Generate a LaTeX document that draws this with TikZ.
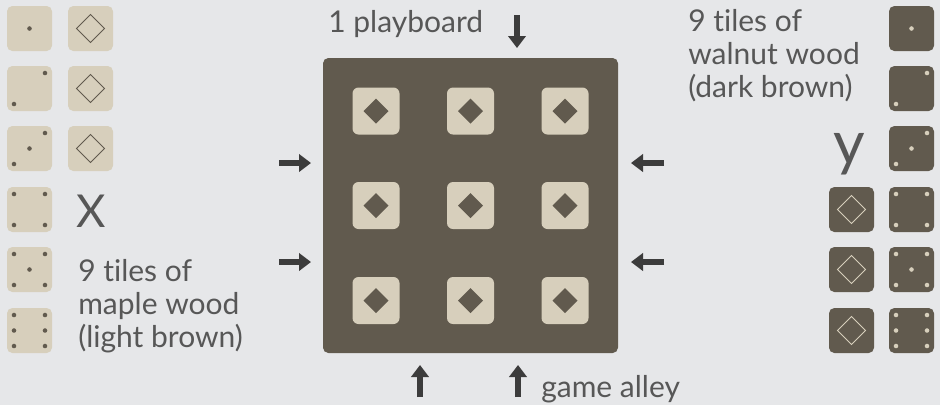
\documentclass[tikz,border=0pt]{standalone}
\usepackage{fontspec}
\setmainfont{Lato}[Ligatures=NoCommon]
\usetikzlibrary{arrows.meta,calc}
\definecolor{bgc}{HTML}{E6E7E9}
\definecolor{lightw}{HTML}{D7CFBC}
\definecolor{darkw}{HTML}{615A4E}
\definecolor{txtc}{HTML}{575757}
\definecolor{arrc}{HTML}{3C3C3C}
\tikzset{
  smalltile/.style={rectangle, minimum size=33.75pt, inner sep=0pt, rounded corners=4pt},
  ltile/.style={smalltile, fill=lightw},
  dtile/.style={smalltile, fill=darkw},
  boardtile/.style={rectangle, minimum size=35.25pt, inner sep=0pt, rounded corners=4.5pt, fill=lightw},
  boardbox/.style={rectangle, minimum size=221.25pt, inner sep=0pt, rounded corners=4pt, fill=darkw},
  lbl/.style={inner sep=0pt, text=txtc, font=\fontsize{22.5}{24.75}\selectfont, align=left},
  bigarrow/.style={draw=arrc, line width=4pt, -{Triangle[width=13pt,length=9pt]}},
}
\newcommand{\pipsat}[3]{% node, colour, list of offsets
  \foreach \dx/\dy in {#3}{\fill[#2] ($(#1)+(\dx,\dy)$) circle[radius=1.7pt];}}
\newcommand{\outdiamond}[2]{%
  \draw[#2, line width=0.6pt] ($(#1)+(0,-14)$) -- ($(#1)+(14,0)$) -- ($(#1)+(0,14)$) -- ($(#1)+(-14,0)$) -- cycle;}
\newcommand{\filldiamond}[1]{%
  \fill[darkw] ($(#1)+(0,-12.5)$) -- ($(#1)+(12.5,0)$) -- ($(#1)+(0,12.5)$) -- ($(#1)+(-12.5,0)$) -- cycle;}
\begin{document}
\begin{tikzpicture}[x=0.75pt, y=-0.75pt]
\fill[bgc] (0,0) rectangle (940,405);
\useasboundingbox (0,0) rectangle (940,405);
% left dice (maple)
\foreach \i/\y in {1/28.5,2/88.5,3/148.5,4/209.5,5/269.5,6/330.5}{
  \node[ltile] (L\i) at (29.5,\y) {};
}
\foreach \i/\y in {1/28.5,2/88.5,3/148.5}{
  \node[ltile] (LD\i) at (90.5,\y) {};
  \outdiamond{LD\i}{darkw}
}
\pipsat{L1}{darkw}{0/0}
\pipsat{L2}{darkw}{15.5/-15.5,-15.5/15.5}
\pipsat{L3}{darkw}{15.5/-15.5,0/0,-15.5/15.5}
\pipsat{L4}{darkw}{15.5/-15.5,-15.5/15.5,15.5/15.5,-15.5/-15.5}
\pipsat{L5}{darkw}{15.5/-15.5,-15.5/15.5,15.5/15.5,-15.5/-15.5,0/0}
\pipsat{L6}{darkw}{15.5/-15.5,-15.5/15.5,15.5/15.5,-15.5/-15.5,15.5/0,-15.5/0}
% right dice (walnut)
\foreach \i/\y in {1/28.5,2/88.5,3/148.5,4/209.5,5/269.5,6/330.5}{
  \node[dtile] (R\i) at (911.5,\y) {};
}
\foreach \i/\y in {4/209.5,5/269.5,6/330.5}{
  \node[dtile] (RD\i) at (851.5,\y) {};
  \outdiamond{RD\i}{lightw}
}
\pipsat{R1}{lightw}{0/0}
\pipsat{R2}{lightw}{15.5/-15.5,-15.5/15.5}
\pipsat{R3}{lightw}{15.5/-15.5,0/0,-15.5/15.5}
\pipsat{R4}{lightw}{15.5/-15.5,-15.5/15.5,15.5/15.5,-15.5/-15.5}
\pipsat{R5}{lightw}{15.5/-15.5,-15.5/15.5,15.5/15.5,-15.5/-15.5,0/0}
\pipsat{R6}{lightw}{15.5/-15.5,-15.5/15.5,15.5/15.5,-15.5/-15.5,15.5/0,-15.5/0}
% board
\node[boardbox] (B) at (470.5,205.5) {};
\foreach \r/\y in {1/111,2/205.5,3/300.5}{
  \foreach \c/\x in {1/376,2/470.5,3/565}{
    \node[boardtile] (T\r\c) at (\x,\y) {};
    \filldiamond{T\r\c}
  }
}
% labels (base = last line)
\node[lbl, anchor=base west] (lblL) at (78,347) {9 tiles of\\maple wood\\(light brown)};
\node[lbl, anchor=base west] (lblR) at (688,97) {9 tiles of\\walnut wood\\(dark brown)};
\node[lbl, anchor=base west] (lblB) at (328,32) {1 playboard};
\node[lbl, anchor=base west] (lblG) at (541,397) {game alley};
\node[inner sep=0pt, text=txtc, font=\fontsize{34}{34}\selectfont, anchor=base west] (lblX) at (76,227) {X};
\node[inner sep=0pt, text=txtc, font=\fontsize{46}{46}\selectfont, anchor=base west] (lblY) at (833,164) {y};
% arrows
\coordinate (a1s) at (517,15);  \coordinate (a1e) at (517,48);
\coordinate (a2s) at (279,163); \coordinate (a2e) at (311,163);
\coordinate (a3s) at (279,262); \coordinate (a3e) at (311,262);
\coordinate (a4s) at (664,163); \coordinate (a4e) at (631,163);
\coordinate (a5s) at (664,262); \coordinate (a5e) at (631,262);
\coordinate (a6s) at (420,397); \coordinate (a6e) at (420,365);
\coordinate (a7s) at (518,397); \coordinate (a7e) at (518,365);
\foreach \k in {1,...,7}{\draw[bigarrow] (a\k s) -- (a\k e);}
\end{tikzpicture}
\end{document}
